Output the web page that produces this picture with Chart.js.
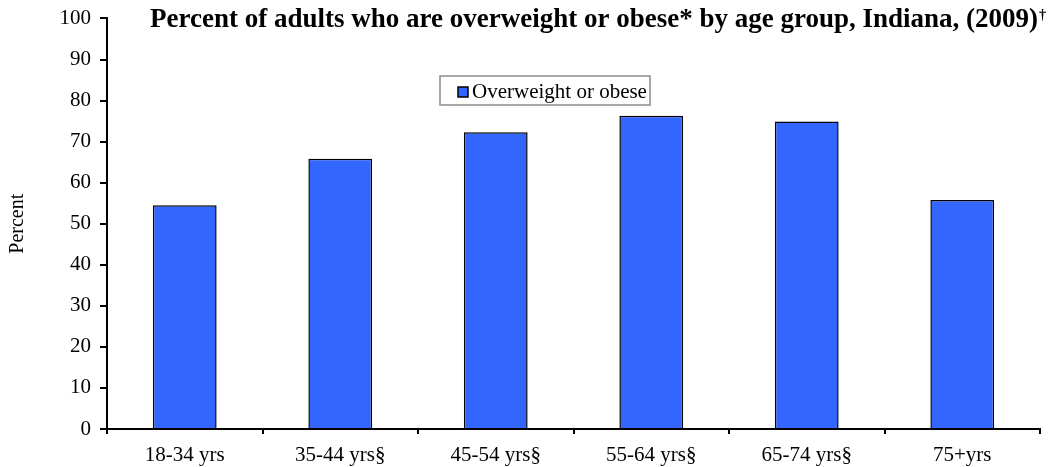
<!DOCTYPE html>
<html>
<head>
<meta charset="utf-8">
<script src="https://cdn.jsdelivr.net/npm/chart.js@4/dist/chart.umd.min.js"></script>
<style>
  html, body { margin: 0; padding: 0; background: #fff; }
  #wrap { width: 1048px; height: 467px; position: relative; }
</style>
</head>
<body>
<div id="wrap"><canvas id="ageChart"></canvas></div>
<script>
"use strict";

const AGE_GROUPS = ["18-34 yrs", "35-44 yrs§", "45-54 yrs§", "55-64 yrs§", "65-74 yrs§", "75+yrs"];
const OVERWEIGHT_PCT = [54.5, 65.8, 72.3, 76.3, 74.9, 55.8];
const SERIES_LABEL = "Overweight or obese";
const TITLE_TEXT = "Percent of adults who are overweight or obese* by age group, Indiana, (2009)";
const TITLE_MARK = "†";
const Y_TITLE = "Percent";

const SERIF = "'Liberation Serif', 'Times New Roman', serif";

// title with a superscript dagger, drawn beside the top of the y axis
const titlePlugin = {
  id: "supTitle",
  afterDraw(chart) {
    const ctx = chart.ctx;
    ctx.save();
    ctx.fillStyle = "#000";
    ctx.textBaseline = "alphabetic";
    ctx.textAlign = "left";
    ctx.font = "bold 27px " + SERIF;
    const x = 150;
    ctx.fillText(TITLE_TEXT, x, 27);
    const w = ctx.measureText(TITLE_TEXT).width;
    ctx.font = "bold 14px " + SERIF;
    ctx.fillText(TITLE_MARK, x + w + 1, 19);
    ctx.restore();
  }
};

// boxed legend floating inside the plot
const boxLegendPlugin = {
  id: "boxLegend",
  afterDraw(chart) {
    const ds = chart.data.datasets[0];
    const ctx = chart.ctx;
    const left = 440, top = 76, width = 210, height = 29;
    ctx.save();
    ctx.fillStyle = "#fff";
    ctx.fillRect(left, top, width, height);
    ctx.strokeStyle = "#8c8c8c";
    ctx.lineWidth = 1.5;
    ctx.strokeRect(left, top, width, height);

    ctx.fillStyle = ds.backgroundColor;
    ctx.fillRect(458, 87, 10, 10);
    ctx.strokeStyle = "#000";
    ctx.lineWidth = 1.5;
    ctx.strokeRect(458, 87, 10, 10);

    ctx.fillStyle = "#000";
    ctx.font = "21px " + SERIF;
    ctx.textBaseline = "middle";
    ctx.fillText(ds.label, 472, 92);
    ctx.restore();
  }
};

new Chart(document.getElementById("ageChart"), {
  type: "bar",
  data: {
    labels: AGE_GROUPS,
    datasets: [{
      label: SERIES_LABEL,
      data: OVERWEIGHT_PCT,
      backgroundColor: "#3366ff",
      borderColor: "#000",
      borderWidth: 1.5,
      categoryPercentage: 1,
      barPercentage: 0.41
    }]
  },
  options: {
    responsive: true,
    maintainAspectRatio: false,
    animation: false,
    layout: { padding: { top: 8, right: 8, left: 0, bottom: 0 } },
    plugins: {
      legend: { display: false },
      title: { display: false },
      tooltip: { enabled: false }
    },
    scales: {
      x: {
        offset: true,
        grid: {
          offset: true,
          drawOnChartArea: false,
          drawTicks: true,
          tickLength: 5,
          color: "#000",
          lineWidth: 2
        },
        border: { display: true, color: "#000", width: 2 },
        ticks: {
          color: "#000",
          padding: 9,
          maxRotation: 0,
          font: { family: SERIF, size: 21 }
        },
        afterFit: scale => { scale.height = 38; }
      },
      y: {
        min: 0,
        max: 100,
        ticks: {
          stepSize: 10,
          color: "#000",
          padding: 9,
          font: { family: SERIF, size: 21, lineHeight: 0.9 }
        },
        grid: {
          drawOnChartArea: false,
          drawTicks: true,
          tickLength: 7,
          color: "#000",
          lineWidth: 2
        },
        border: { display: true, color: "#000", width: 2 },
        title: {
          display: true,
          text: Y_TITLE,
          color: "#000",
          padding: 6,
          font: { family: SERIF, size: 20 }
        },
        afterFit: scale => { scale.width = 107; }
      }
    }
  },
  plugins: [titlePlugin, boxLegendPlugin]
});
</script>
</body>
</html>
